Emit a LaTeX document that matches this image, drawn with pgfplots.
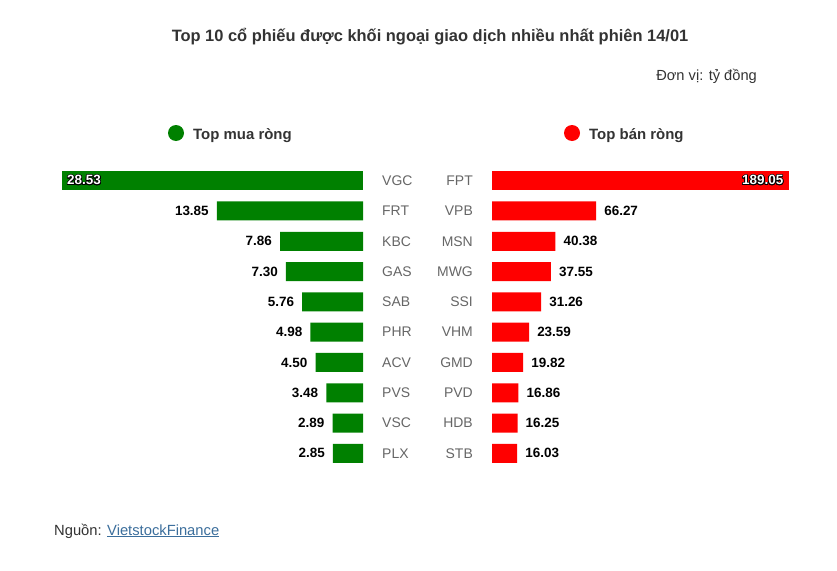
\documentclass[border=0pt]{standalone}
\usepackage{pgfplots}
\pgfplotsset{compat=1.18}
\usepackage{fontspec}
\setmainfont{Liberation Sans}
\usepackage{contour}
\contourlength{0.7pt}

\definecolor{buygreen}{HTML}{008000}
\definecolor{sellred}{HTML}{FF0000}
\definecolor{titlegray}{HTML}{333333}
\definecolor{catgray}{HTML}{666666}
\definecolor{linkblue}{HTML}{3B6E9C}

\pgfplotsset{
  sidebar/.style={
    xbar, bar shift=0pt, bar width=0.627,
    scale only axis, height=303bp,
    ymin=-0.5, ymax=9.5, y dir=reverse,
    axis line style={draw=none}, xtick=\empty,
    ytick={0,...,9}, major tick length=0pt,
    yticklabel style={font=\fontsize{14}{16}\selectfont, text=catgray, inner sep=0pt},
    point meta=explicit,
    /pgf/number format/assume math mode=true,
    nodes near coords={\pgfmathprintnumber[fixed,fixed zerofill,precision=2]{\pgfplotspointmeta}},
    every node near coord/.append style={font=\bfseries\fontsize{13.5}{15}\selectfont, text=black, inner sep=0pt},
    clip=false,
  },
  inside/.style={
    nodes near coords={\contour{black}{\pgfmathprintnumber[fixed,fixed zerofill,precision=2]{\pgfplotspointmeta}}},
    every node near coord/.append style={text=white},
  },
}

\begin{document}
\begin{tikzpicture}[every node/.style={inner sep=0pt}]
\fill[white] (0,0) rectangle (837bp,-571bp);
\path[use as bounding box] (0,0) rectangle (837bp,-571bp);

% titles
\node[anchor=base, font=\bfseries\fontsize{16.5}{19}\selectfont, text=titlegray]
  at (430bp,-41.5bp) {Top 10 cổ phiếu được khối ngoại giao dịch nhiều nhất phiên 14/01};
\node[anchor=base east, font=\fontsize{14.7}{17}\selectfont, text=titlegray]
  at (757bp,-80bp) {Đơn vị: tỷ đồng};

% legend
\fill[buygreen] (176bp,-133bp) circle (8bp);
\node[anchor=base west, font=\bfseries\fontsize{15}{17}\selectfont, text=titlegray]
  at (193bp,-139bp) {Top mua ròng};
\fill[sellred] (572bp,-133bp) circle (8bp);
\node[anchor=base west, font=\bfseries\fontsize{15}{17}\selectfont, text=titlegray]
  at (589bp,-139bp) {Top bán ròng};

% net buy (left)
\begin{axis}[sidebar,
  at={(212.5bp,-317bp)}, anchor=center,
  width=301bp, xmin=-28.53, xmax=0,
  yticklabel pos=right,
  yticklabels={VGC,FRT,KBC,GAS,SAB,PHR,ACV,PVS,VSC,PLX},
  yticklabel style={anchor=west, xshift=19bp},
]
\addplot[fill=buygreen, draw=none, inside,
  every node near coord/.append style={anchor=west, xshift=5bp}]
  coordinates {(-28.53,0) [28.53]};
\addplot[fill=buygreen, draw=none,
  every node near coord/.append style={anchor=east, xshift=-8bp}]
  coordinates {
  (-13.85,1) [13.85]
  (-7.86,2) [7.86]
  (-7.30,3) [7.30]
  (-5.76,4) [5.76]
  (-4.98,5) [4.98]
  (-4.50,6) [4.50]
  (-3.48,7) [3.48]
  (-2.89,8) [2.89]
  (-2.85,9) [2.85]
};
\end{axis}

% net sell (right)
\begin{axis}[sidebar,
  at={(640.5bp,-317bp)}, anchor=center,
  width=297bp, xmin=0, xmax=189.05,
  yticklabel pos=left,
  yticklabels={FPT,VPB,MSN,MWG,SSI,VHM,GMD,PVD,HDB,STB},
  yticklabel style={anchor=east, xshift=-19bp},
]
\addplot[fill=sellred, draw=none, inside,
  every node near coord/.append style={anchor=east, xshift=-5.5bp}]
  coordinates {(189.05,0) [189.05]};
\addplot[fill=sellred, draw=none,
  every node near coord/.append style={anchor=west, xshift=8bp}]
  coordinates {
  (66.27,1) [66.27]
  (40.38,2) [40.38]
  (37.55,3) [37.55]
  (31.26,4) [31.26]
  (23.59,5) [23.59]
  (19.82,6) [19.82]
  (16.86,7) [16.86]
  (16.25,8) [16.25]
  (16.03,9) [16.03]
};
\end{axis}

% source
\node[anchor=base west, font=\fontsize{14.8}{17}\selectfont, text=titlegray]
  at (54bp,-535bp) {Nguồn: \textcolor{linkblue}{\underline{VietstockFinance}}};
\end{tikzpicture}
\end{document}
